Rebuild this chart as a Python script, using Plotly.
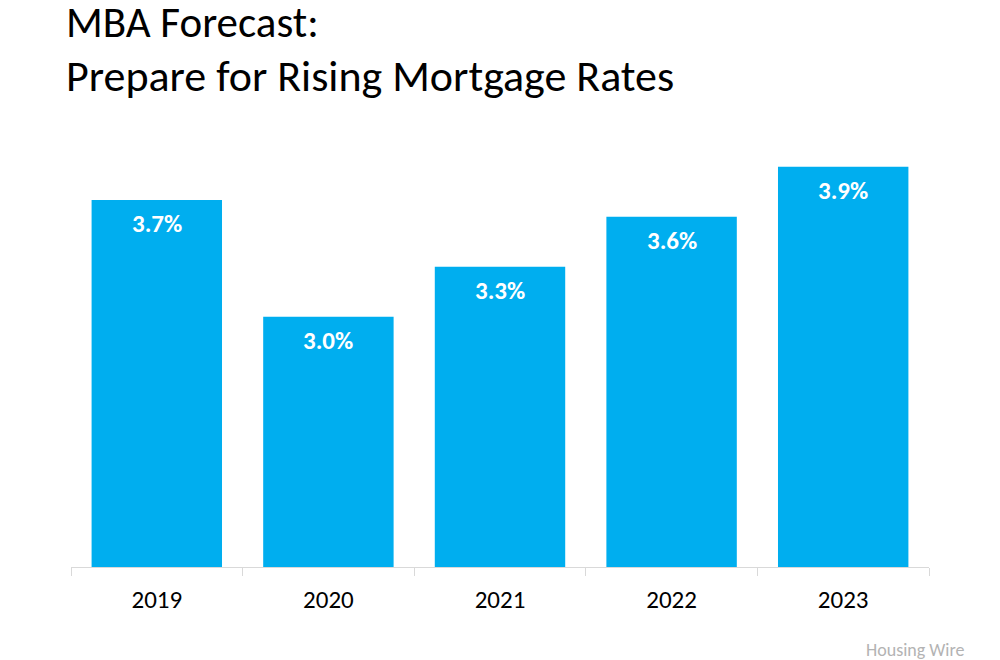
import plotly.graph_objects as go

years = ["2019", "2020", "2021", "2022", "2023"]
rates = [3.7, 3.0, 3.3, 3.6, 3.9]
labels = ["3.7%", "3.0%", "3.3%", "3.6%", "3.9%"]

FONT = "Carlito, Lato, 'Open Sans', sans-serif"
BAR = "#00AEEF"

fig = go.Figure(go.Bar(x=years, y=rates, marker=dict(color=BAR, line=dict(width=0)),
                       hoverinfo="skip"))

for i, (v, t) in enumerate(zip(rates, labels)):
    fig.add_annotation(x=i, y=v, text=t, showarrow=False, yanchor="top", yshift=-6,
                       font=dict(family=FONT, size=25, color="white", weight="bold"))

fig.add_annotation(xref="paper", yref="paper", x=-0.008, y=1.305, xanchor="left", yanchor="middle",
                   text="MBA Forecast:", showarrow=False,
                   font=dict(family=FONT, size=43, color="black"))
fig.add_annotation(xref="paper", yref="paper", x=-0.008, y=1.177, xanchor="left", yanchor="middle",
                   text="Prepare for Rising Mortgage Rates", showarrow=False,
                   font=dict(family=FONT, size=44, color="black"))
fig.add_annotation(xref="paper", yref="paper", x=1.044, y=-0.199, xanchor="right", yanchor="middle",
                   text="Housing Wire", showarrow=False,
                   font=dict(family=FONT, size=18, color="#b3b3b3"))

fig.update_layout(
    width=992, height=652,
    margin=dict(l=63, r=71, t=142, b=93, autoexpand=False),
    paper_bgcolor="white", plot_bgcolor="white",
    bargap=0.24, showlegend=False,
    xaxis=dict(type="category", range=[-0.5, 4.5], showline=True, linecolor="#d9d9d9", linewidth=1,
               ticks="outside", ticklen=8, tickcolor="#d9d9d9", tickson="boundaries",
               ticklabelstandoff=10, tickangle=0, automargin=False,
               tickfont=dict(family=FONT, size=25, color="black"), showgrid=False),
    yaxis=dict(range=[1.5, 4.0], visible=False, showgrid=False, automargin=False),
)

fig.write_html("out.html")
